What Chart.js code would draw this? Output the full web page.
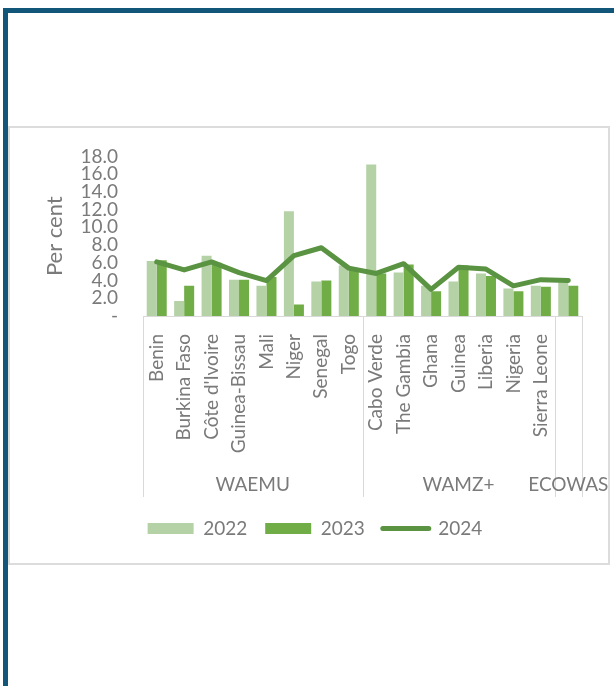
<!DOCTYPE html>
<html>
<head>
<meta charset="utf-8">
<script src="https://cdn.jsdelivr.net/npm/chart.js@4.4.1/dist/chart.umd.min.js"></script>
<style>
    body { margin: 0; background: #fff; }
    .frame {
        position: absolute; left: 3px; top: 8px; width: 700px; height: 700px;
        border-top: 5px solid #125679; border-left: 5px solid #125679;
    }
    .box {
        position: absolute; left: 8px; top: 126px; width: 598px; height: 435px;
        border: 2px solid #dcdcdc; background: #fff;
    }
    .box canvas { display: block; }
</style>
</head>
<body>
<div class="frame"></div>
<div class="box"><canvas id="chart" width="598" height="435"></canvas></div>
<script>
// 国別データ（単位: %）
const categories = ['Benin', 'Burkina Faso', "Côte d'Ivoire", 'Guinea-Bissau', 'Mali', 'Niger', 'Senegal', 'Togo',
    'Cabo Verde', 'The Gambia', 'Ghana', 'Guinea', 'Liberia', 'Nigeria', 'Sierra Leone', ''];
const groupNames = ['WAEMU', 'WAMZ+', 'ECOWAS'];
const groupSizes = [8, 7, 1];
const values2022 = [6.2, 1.7, 6.8, 4.1, 3.4, 11.8, 3.9, 5.7, 17.1, 4.9, 3.4, 3.9, 4.8, 3.1, 3.4, 3.8];
const values2023 = [6.3, 3.4, 6.0, 4.1, 4.4, 1.3, 4.0, 5.2, 4.8, 5.8, 2.8, 5.7, 4.5, 2.8, 3.3, 3.4];
const values2024 = [6.1, 5.2, 6.1, 4.9, 4.0, 6.8, 7.7, 5.4, 4.8, 5.9, 3.0, 5.5, 5.3, 3.4, 4.1, 4.0];

const textColor = '#7a7a7a';
const lineColor = '#d9d9d9';
const fontFamily = 'Lato, "Open Sans", sans-serif';

// グループ名と区切り線を描くプラグイン
const groupAxisPlugin = {
    id: 'groupAxis',
    afterDraw(chart) {
        const x = chart.scales.x;
        const ctx = chart.ctx;
        const half = (x.getPixelForValue(1) - x.getPixelForValue(0)) / 2;
        const top = chart.chartArea.bottom;
        ctx.save();
        ctx.strokeStyle = lineColor;
        ctx.lineWidth = 1;
        let start = 0;
        const edges = [x.getPixelForValue(0) - half];
        groupSizes.forEach(n => {
            edges.push(x.getPixelForValue(start + n - 1) + half);
            start += n;
        });
        edges.forEach(px => {
            ctx.beginPath();
            ctx.moveTo(Math.round(px) + 0.5, top);
            ctx.lineTo(Math.round(px) + 0.5, top + 181);
            ctx.stroke();
        });
        ctx.fillStyle = textColor;
        ctx.font = '19px ' + fontFamily;
        ctx.textAlign = 'center';
        ctx.textBaseline = 'middle';
        groupNames.forEach((name, i) => {
            ctx.fillText(name, (edges[i] + edges[i + 1]) / 2, top + 169);
        });
        ctx.restore();
    }
};

const ctx = document.getElementById('chart').getContext('2d');
new Chart(ctx, {
    type: 'bar',
    data: {
        labels: categories,
        datasets: [{
            label: '2022',
            data: values2022,
            backgroundColor: '#b4d2a6',
            categoryPercentage: 0.73,
            barPercentage: 1.0,
            order: 1
        }, {
            label: '2023',
            data: values2023,
            backgroundColor: '#70ad47',
            categoryPercentage: 0.73,
            barPercentage: 1.0,
            order: 1
        }, {
            type: 'line',
            label: '2024',
            data: values2024,
            borderColor: '#5a9341',
            backgroundColor: '#5a9341',
            borderWidth: 5,
            borderCapStyle: 'round',
            borderJoinStyle: 'round',
            pointRadius: 0,
            tension: 0,
            order: 0
        }]
    },
    options: {
        responsive: false,
        animation: false,
        layout: { padding: { left: 38, right: 26, top: 14.6, bottom: 15 } },
        scales: {
            x: {
                grid: { display: false },
                border: { display: true, color: lineColor },
                ticks: {
                    color: textColor,
                    font: { family: fontFamily, size: 19 },
                    minRotation: 90,
                    maxRotation: 90,
                    autoSkip: false,
                    padding: 10
                },
                afterFit(scale) { scale.height = 185; }
            },
            y: {
                min: 0,
                max: 18,
                grid: { display: false },
                border: { display: false },
                ticks: {
                    stepSize: 2,
                    autoSkip: false,
                    color: textColor,
                    font: { family: fontFamily, size: 19 },
                    padding: 17,
                    callback: v => v === 0 ? '-' : v.toFixed(1)
                },
                title: {
                    display: true,
                    text: 'Per cent',
                    color: textColor,
                    font: { family: fontFamily, size: 22 },
                    padding: { top: -6, bottom: 0 }
                },
                afterFit(scale) { scale.width = 95; }
            }
        },
        plugins: {
            legend: {
                position: 'bottom',
                labels: {
                    usePointStyle: true,
                    pointStyleWidth: 46,
                    boxHeight: 11,
                    padding: 18,
                    color: textColor,
                    font: { family: fontFamily, size: 19 },
                    generateLabels(chart) {
                        return chart.data.datasets.map((ds, i) => ({
                            text: ds.label,
                            fillStyle: ds.type === 'line' ? ds.borderColor : ds.backgroundColor,
                            strokeStyle: ds.type === 'line' ? ds.borderColor : ds.backgroundColor,
                            lineWidth: ds.type === 'line' ? 5 : 0,
                            lineCap: 'round',
                            pointStyle: ds.type === 'line' ? 'line' : 'rect',
                            fontColor: textColor,
                            hidden: false,
                            datasetIndex: i
                        }));
                    }
                }
            },
            tooltip: { enabled: false }
        }
    },
    plugins: [groupAxisPlugin]
});
</script>
</body>
</html>
